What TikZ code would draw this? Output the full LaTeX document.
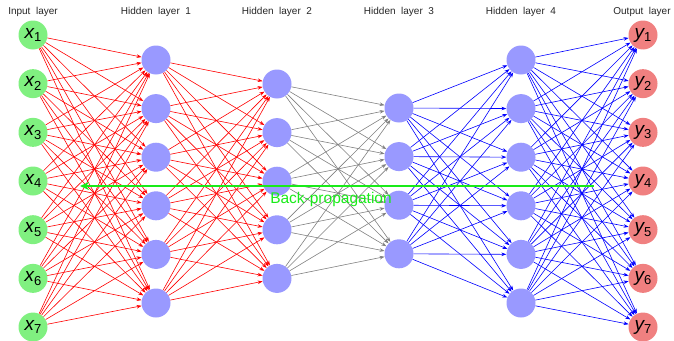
\documentclass[tikz,border=0pt]{standalone}
\usepackage{fontspec}
\setmainfont{Liberation Sans}
\usetikzlibrary{arrows.meta}
\definecolor{ingreen}{RGB}{128,240,128}
\definecolor{hidblue}{RGB}{153,153,255}
\definecolor{outred}{RGB}{240,128,128}
\definecolor{bpgreen}{RGB}{25,235,25}
\definecolor{edgegray}{RGB}{128,128,128}
\begin{document}
\begin{tikzpicture}[x=1pt,y=-1pt,
  neuron/.style={circle, minimum size=29pt, inner sep=0pt},
  inneuron/.style={neuron, fill=ingreen},
  hidneuron/.style={neuron, fill=hidblue},
  outneuron/.style={neuron, fill=outred},
  layertitle/.style={font=\fontsize{10}{12}\selectfont, text=black!85},
  conn/.style={line width=0.6pt, -{Stealth[length=5pt,width=3.6pt]}},
  redconn/.style={conn, red},
  grayconn/.style={conn, edgegray},
  blueconn/.style={conn, blue},
  bpline/.style={line width=2pt, bpgreen, -{Stealth[length=9pt,width=8pt]}},
  bplabel/.style={font=\fontsize{15.5}{16}\selectfont, text=bpgreen}
]
\useasboundingbox (0,0) rectangle (674,340);

% titles
\node[layertitle] (t0) at (33,12) {Input\ \ layer};
\node[layertitle] (t1) at (156,12) {Hidden\ \ layer\ \ 1};
\node[layertitle] (t2) at (277,12) {Hidden\ \ layer\ \ 2};
\node[layertitle] (t3) at (399,12) {Hidden\ \ layer\ \ 3};
\node[layertitle] (t4) at (521,12) {Hidden\ \ layer\ \ 4};
\node[layertitle] (t5) at (642,12) {Output\ \ layer};

% nodes
\foreach \k in {1,...,7} {
  \node[inneuron] (i\k) at (33,{35+48.67*(\k-1)})
    {{\fontsize{19}{19}\selectfont\itshape x}\raisebox{-3.5pt}{\fontsize{13}{13}\selectfont \k}};
  \node[outneuron] (o\k) at (643,{35+48.67*(\k-1)})
    {{\fontsize{19}{19}\selectfont\itshape y}\raisebox{-3.5pt}{\fontsize{13}{13}\selectfont \k}};
}
\foreach \k in {1,...,6} {
  \node[hidneuron] (a\k) at (156,{60+48.6*(\k-1)}) {};
  \node[hidneuron] (d\k) at (521,{60+48.6*(\k-1)}) {};
}
\foreach \k in {1,...,5} {
  \node[hidneuron] (b\k) at (277,{84+48.6*(\k-1)}) {};
}
\foreach \k in {1,...,4} {
  \node[hidneuron] (c\k) at (399,{108+48.6*(\k-1)}) {};
}

% connections
\foreach \s in {1,...,7} \foreach \t in {1,...,6} \draw[redconn] (i\s) -- (a\t);
\foreach \s in {1,...,6} \foreach \t in {1,...,5} \draw[redconn] (a\s) -- (b\t);
\foreach \s in {1,...,5} \foreach \t in {1,...,4} \draw[grayconn] (b\s) -- (c\t);
\foreach \s in {1,...,4} \foreach \t in {1,...,6} \draw[blueconn] (c\s) -- (d\t);
\foreach \s in {1,...,6} \foreach \t in {1,...,7} \draw[blueconn] (d\s) -- (o\t);

% back-propagation
\coordinate (bpR) at (594,186);
\coordinate (bpL) at (80,186);
\draw[bpline] (bpR) -- (bpL);
\node[bplabel] (bplab) at (331,199) {Back-propagation};
\end{tikzpicture}
\end{document}
